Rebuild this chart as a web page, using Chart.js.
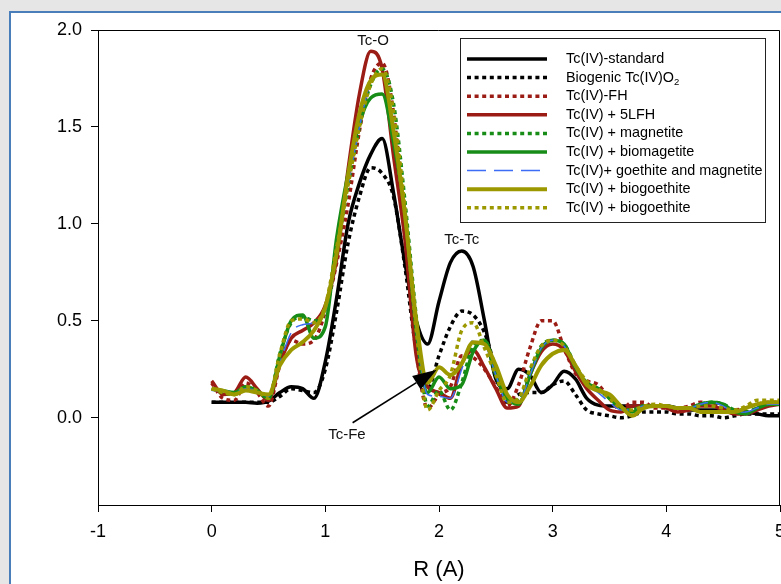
<!DOCTYPE html>
<html>
<head>
<meta charset="utf-8">
<script src="https://cdn.jsdelivr.net/npm/chart.js@4.4.1/dist/chart.umd.min.js"></script>
<style>
  html, body { margin: 0; padding: 0; background: #e6e6e6; overflow: hidden; }
  #panel { position: absolute; left: 9px; top: 11px; width: 800px; height: 600px; background: #fff; border: 2px solid #4a7ebb; }
  #chart { position: absolute; left: 0; top: 0; }
</style>
</head>
<body>
<div id="panel"></div>
<canvas id="chart" width="781" height="584"></canvas>
<script>
const rValues = [0.0, 0.1, 0.2, 0.3, 0.4, 0.5, 0.6, 0.7, 0.8, 0.9,
  1.0, 1.1, 1.2, 1.3, 1.4, 1.5, 1.6, 1.7, 1.8, 1.9,
  2.0, 2.1, 2.2, 2.3, 2.4, 2.5, 2.6, 2.7, 2.8, 2.9,
  3.0, 3.1, 3.2, 3.3, 3.4, 3.5, 3.6, 3.7, 3.8, 3.9,
  4.0, 4.1, 4.2, 4.3, 4.4, 4.5, 4.6, 4.7, 4.8, 4.9, 5.0];

const tcStandard = [0.08, 0.08, 0.08, 0.08, 0.075, 0.085, 0.13, 0.16, 0.15, 0.10,
  0.29, 0.62, 1.00, 1.21, 1.36, 1.44, 1.16, 0.80, 0.50, 0.38,
  0.60, 0.80, 0.86, 0.78, 0.50, 0.20, 0.15, 0.25, 0.22, 0.13,
  0.17, 0.24, 0.20, 0.10, 0.065, 0.06, 0.06, 0.06, 0.06, 0.06,
  0.06, 0.05, 0.04, 0.04, 0.04, 0.04, 0.04, 0.03, 0.02, 0.01, 0.01];

const biogenicTcO2 = [0.08, 0.08, 0.08, 0.08, 0.08, 0.08, 0.11, 0.15, 0.14, 0.13,
  0.25, 0.55, 0.90, 1.14, 1.29, 1.26, 1.14, 0.78, 0.35, 0.15,
  0.32, 0.47, 0.55, 0.53, 0.44, 0.25, 0.08, 0.12, 0.13, 0.13,
  0.17, 0.19, 0.12, 0.04, 0.02, 0.01, 0.00, 0.01, 0.03, 0.03,
  0.03, 0.02, 0.02, 0.01, 0.01, 0.00, 0.01, 0.02, 0.02, 0.02, 0.02];

const tcFH = [0.18, 0.10, 0.09, 0.18, 0.13, 0.06, 0.27, 0.40, 0.38, 0.40,
  0.55, 0.80, 1.10, 1.48, 1.75, 1.83, 1.57, 0.98, 0.35, 0.05,
  0.12, 0.16, 0.32, 0.31, 0.25, 0.16, 0.06, 0.17, 0.36, 0.50,
  0.50, 0.36, 0.23, 0.19, 0.17, 0.10, 0.04, 0.08, 0.08, 0.05,
  0.05, 0.05, 0.06, 0.08, 0.07, 0.05, 0.04, 0.05, 0.07, 0.08, 0.08];

const tc5LFH = [0.19, 0.12, 0.13, 0.21, 0.15, 0.09, 0.28, 0.41, 0.45, 0.49,
  0.58, 0.82, 1.28, 1.67, 1.89, 1.80, 1.35, 0.92, 0.32, 0.16,
  0.13, 0.10, 0.28, 0.35, 0.26, 0.15, 0.05, 0.06, 0.22, 0.34,
  0.38, 0.35, 0.24, 0.15, 0.09, 0.04, 0.03, 0.06, 0.06, 0.06,
  0.05, 0.03, 0.04, 0.06, 0.06, 0.04, 0.02, 0.02, 0.04, 0.06, 0.07];

const tcMagnetite = [0.15, 0.13, 0.12, 0.15, 0.14, 0.10, 0.33, 0.49, 0.52, 0.50,
  0.56, 0.86, 1.20, 1.50, 1.72, 1.80, 1.62, 1.12, 0.52, 0.06,
  0.14, 0.04, 0.18, 0.37, 0.40, 0.25, 0.10, 0.09, 0.24, 0.37,
  0.40, 0.38, 0.27, 0.18, 0.15, 0.10, 0.05, 0.04, 0.06, 0.06,
  0.06, 0.05, 0.05, 0.07, 0.08, 0.07, 0.04, 0.03, 0.05, 0.07, 0.08];

const tcBiomagetite = [0.15, 0.14, 0.13, 0.16, 0.14, 0.10, 0.32, 0.50, 0.53, 0.41,
  0.47, 0.93, 1.26, 1.52, 1.65, 1.67, 1.42, 1.06, 0.45, 0.13,
  0.21, 0.15, 0.17, 0.34, 0.40, 0.22, 0.10, 0.07, 0.22, 0.36,
  0.40, 0.38, 0.26, 0.18, 0.15, 0.10, 0.05, 0.03, 0.06, 0.06,
  0.06, 0.05, 0.05, 0.07, 0.08, 0.07, 0.03, 0.02, 0.05, 0.07, 0.07];

const tcGoethiteMagnetite = [0.14, 0.14, 0.13, 0.15, 0.14, 0.11, 0.28, 0.44, 0.48, 0.49,
  0.55, 0.85, 1.20, 1.50, 1.73, 1.77, 1.50, 1.02, 0.45, 0.12,
  0.11, 0.10, 0.25, 0.40, 0.38, 0.22, 0.08, 0.08, 0.22, 0.36,
  0.40, 0.37, 0.26, 0.17, 0.13, 0.08, 0.04, 0.04, 0.06, 0.06,
  0.06, 0.05, 0.05, 0.07, 0.08, 0.06, 0.03, 0.03, 0.05, 0.07, 0.07];

const tcBiogoethite = [0.15, 0.14, 0.12, 0.14, 0.13, 0.12, 0.27, 0.35, 0.39, 0.45,
  0.57, 0.85, 1.25, 1.57, 1.74, 1.77, 1.48, 1.05, 0.50, 0.18,
  0.26, 0.22, 0.28, 0.39, 0.38, 0.27, 0.12, 0.08, 0.16, 0.27,
  0.33, 0.35, 0.27, 0.17, 0.14, 0.12, 0.06, 0.01, 0.05, 0.06,
  0.06, 0.05, 0.05, 0.03, 0.03, 0.03, 0.03, 0.05, 0.07, 0.08, 0.08];

const tcBiogoethite2 = [0.15, 0.13, 0.12, 0.16, 0.14, 0.10, 0.33, 0.50, 0.51, 0.49,
  0.58, 0.88, 1.20, 1.50, 1.72, 1.80, 1.58, 1.08, 0.45, 0.04,
  0.14, 0.22, 0.45, 0.49, 0.36, 0.22, 0.08, 0.10, 0.25, 0.37,
  0.40, 0.37, 0.27, 0.19, 0.15, 0.10, 0.05, 0.04, 0.06, 0.07,
  0.06, 0.05, 0.05, 0.06, 0.06, 0.05, 0.04, 0.06, 0.09, 0.09, 0.09];

const seriesLabels = [
  "Tc(IV)-standard",
  "Biogenic Tc(IV)O\u2082",
  "Tc(IV)-FH",
  "Tc(IV) + 5LFH",
  "Tc(IV) + magnetite",
  "Tc(IV) + biomagetite",
  "Tc(IV)+ goethite and magnetite",
  "Tc(IV) + biogoethite",
  "Tc(IV) + biogoethite",
];
const seriesValues = [tcStandard, biogenicTcO2, tcFH, tc5LFH, tcMagnetite,
  tcBiomagetite, tcGoethiteMagnetite, tcBiogoethite, tcBiogoethite2];

const xTicks = [-1, 0, 1, 2, 3, 4, 5];
const yTicks = [0.0, 0.5, 1.0, 1.5, 2.0];

// peak annotations (data coordinates)
const peakNames = ["Tc-O", "Tc-Tc", "Tc-Fe"];
const peakR = [1.42, 2.2, 1.19];
const peakY = [1.945, 0.915, -0.088];
const arrowFrom = [1.24, -0.026];
const arrowTo = [1.98, 0.247];

// line styles
const DARKRED = "#9b1c14";
const GREEN = "#178c17";
const BLUE = "#3d6cf5";
const OLIVE = "#9c9900";
const DOT = [4, 3.6];
const styles = [
  { color: "#000000", width: 3.5, dash: [] },
  { color: "#000000", width: 3.5, dash: DOT },
  { color: DARKRED, width: 3.5, dash: DOT },
  { color: DARKRED, width: 3.5, dash: [] },
  { color: GREEN, width: 3.5, dash: DOT },
  { color: GREEN, width: 3.5, dash: [] },
  { color: BLUE, width: 1.5, dash: [19, 8] },
  { color: OLIVE, width: 4, dash: [] },
  { color: OLIVE, width: 3.5, dash: DOT },
];

const FONT = "'Liberation Sans', Arial, sans-serif";

const decorations = {
  id: "decorations",
  afterDatasetsDraw(chart) {
    const { ctx, chartArea: a, scales: { x, y } } = chart;
    ctx.save();

    // top and right frame lines
    ctx.strokeStyle = "#000";
    ctx.lineWidth = 1;
    ctx.beginPath();
    ctx.moveTo(a.left, a.top + 0.5);
    ctx.lineTo(a.right - 0.5, a.top + 0.5);
    ctx.lineTo(a.right - 0.5, a.bottom);
    ctx.stroke();

    // peak labels
    ctx.fillStyle = "#111";
    ctx.font = "15px " + FONT;
    ctx.textAlign = "center";
    ctx.textBaseline = "middle";
    peakNames.forEach((t, i) => {
      ctx.fillText(t, x.getPixelForValue(peakR[i]), y.getPixelForValue(peakY[i]));
    });

    // arrow to Tc-Fe shoulder
    const x1 = x.getPixelForValue(arrowFrom[0]), y1 = y.getPixelForValue(arrowFrom[1]);
    const x2 = x.getPixelForValue(arrowTo[0]), y2 = y.getPixelForValue(arrowTo[1]);
    const ang = Math.atan2(y2 - y1, x2 - x1);
    const headLen = 24, headW = 8;
    const bx = x2 - headLen * Math.cos(ang), by = y2 - headLen * Math.sin(ang);
    ctx.strokeStyle = "#000";
    ctx.lineWidth = 1.6;
    ctx.beginPath();
    ctx.moveTo(x1, y1);
    ctx.lineTo(bx, by);
    ctx.stroke();
    ctx.fillStyle = "#000";
    ctx.beginPath();
    ctx.moveTo(x2, y2);
    ctx.lineTo(bx + headW * Math.sin(ang), by - headW * Math.cos(ang));
    ctx.lineTo(bx - headW * Math.sin(ang), by + headW * Math.cos(ang));
    ctx.closePath();
    ctx.fill();

    // legend box
    const lx = 460, ly = 38, lw = 305, lh = 184;
    ctx.fillStyle = "#fff";
    ctx.fillRect(lx, ly, lw, lh);
    ctx.strokeStyle = "#222";
    ctx.lineWidth = 1;
    ctx.strokeRect(lx + 0.5, ly + 0.5, lw, lh);

    ctx.textAlign = "left";
    ctx.textBaseline = "middle";
    seriesLabels.forEach((label, i) => {
      const rowY = 59 + i * 18.6;
      const s = styles[i];
      ctx.strokeStyle = s.color;
      ctx.lineWidth = s.width;
      ctx.lineCap = "butt";
      ctx.setLineDash(s.dash);
      ctx.beginPath();
      ctx.moveTo(467, rowY);
      ctx.lineTo(s.dash.length && s.dash[0] > 10 ? 541 : 547, rowY);
      ctx.stroke();
      ctx.setLineDash([]);

      ctx.fillStyle = "#000";
      ctx.font = "14.4px " + FONT;
      const sub = label.indexOf("\u2082");
      if (sub >= 0) {
        const main = label.slice(0, sub);
        ctx.fillText(main, 566, rowY);
        const w = ctx.measureText(main).width;
        ctx.font = "9.5px " + FONT;
        ctx.fillText("2", 566 + w, rowY + 5);
      } else {
        ctx.fillText(label, 566, rowY);
      }
    });

    ctx.restore();
  },
};

const datasets = seriesValues.map((vals, i) => ({
  label: seriesLabels[i],
  data: vals.map((v, j) => ({ x: rValues[j], y: v })),
  borderColor: styles[i].color,
  borderWidth: styles[i].width,
  borderDash: styles[i].dash,
  borderCapStyle: "butt",
  pointRadius: 0,
  fill: false,
  cubicInterpolationMode: "monotone",
  order: seriesValues.length - i,
}));

new Chart(document.getElementById("chart"), {
  type: "line",
  data: { datasets },
  plugins: [decorations],
  options: {
    responsive: false,
    animation: false,
    devicePixelRatio: 1,
    layout: { padding: { left: 0, top: 30, right: 1, bottom: 0 } },
    plugins: { legend: { display: false }, tooltip: { enabled: false } },
    scales: {
      x: {
        type: "linear",
        min: -1,
        max: 5,
        afterBuildTicks: (s) => { s.ticks = xTicks.map((v) => ({ value: v })); },
        afterFit: (s) => { s.height = 79; s.paddingLeft = 0; s.paddingRight = 0; },
        grid: { drawOnChartArea: false, drawTicks: true, tickLength: 7, color: "#000", lineWidth: 1 },
        border: { display: true, color: "#000", width: 1 },
        ticks: {
          color: "#000", padding: 9, maxRotation: 0, autoSkip: false,
          font: { family: FONT, size: 18 },
          callback: (v) => String(v),
        },
        title: {
          display: true, text: "R (A)", color: "#000",
          font: { family: FONT, size: 22 }, padding: { top: 0, bottom: 1 },
        },
      },
      y: {
        type: "linear",
        min: -0.45,
        max: 2.0,
        afterBuildTicks: (s) => { s.ticks = yTicks.map((v) => ({ value: v })); },
        afterFit: (s) => { s.width = 98; s.paddingTop = 0; s.paddingBottom = 0; },
        grid: { drawOnChartArea: false, drawTicks: true, tickLength: 7, color: "#000", lineWidth: 1 },
        border: { display: true, color: "#000", width: 1 },
        ticks: {
          color: "#000", padding: 9,
          font: { family: FONT, size: 18 },
          callback: (v) => Number(v).toFixed(1),
        },
      },
    },
  },
});
</script>
</body>
</html>
